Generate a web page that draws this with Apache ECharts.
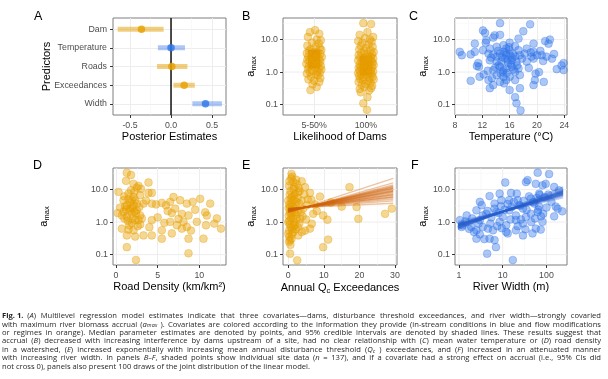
<!DOCTYPE html>
<html><head><meta charset="utf-8">
<script src="https://cdn.jsdelivr.net/npm/echarts@6/dist/echarts.min.js"></script>
<style>html,body{margin:0;padding:0;background:#fff}#c{width:608px;height:379px}</style>
</head><body><div id="c"></div>
<script>
// ---------------- DATA ----------------
const predictors = ['Dam','Temperature','Roads','Exceedances','Width'];
const predictorGroup = ['flow','instream','flow','flow','instream'];
const estMedian = [-0.36, 0.0, 0.01, 0.16, 0.42];
const estLow95  = [-0.65, -0.16, -0.17, 0.03, 0.26];
const estHigh95 = [-0.09, 0.17, 0.20, 0.29, 0.62];
const estTicks = [-0.5, 0, 0.5];
const estTickLabels = ['-0.5','0.0','0.5'];

const damCategories = ['5-50%','100%'];
const damLowAmax = [19.5,17,15,12,10,9.5,8,7.5,6.5,6,5.5,5,4.8,4.5,4.2,4,3.8,3.6,3.4,3.2,3,2.9,2.8,2.6,2.5,2.4,2.3,2.2,2.1,2,1.9,1.8,1.7,1.6,1.55,1.5,1.4,1.3,1.25,1.2,1.1,1.05,1,0.95,0.9,0.85,0.8,0.72,0.65,0.6,0.55,0.5,0.42,0.35,0.28];
const damLowJitter = [0.02,-0.08,0.1,-0.12,0.05,0.13,-0.04,0.09,-0.13,0.03,0.11,-0.07,0.14,-0.1,0.0,0.07,-0.14,0.12,-0.03,0.06,-0.11,0.15,-0.06,0.01,0.1,-0.13,0.04,-0.09,0.12,-0.02,0.08,-0.15,0.05,-0.05,0.13,-0.1,0.02,0.09,-0.12,0.14,-0.04,0.06,-0.08,0.11,-0.14,0.03,0.07,-0.06,0.12,-0.11,0.0,0.1,-0.03,0.05,-0.07];
const damFullAmax = [32,30,17,14,12,11,10,9,8.5,8,7,6.5,6,5.5,5,4.7,4.4,4.1,3.9,3.7,3.5,3.3,3.1,3,2.9,2.8,2.7,2.6,2.5,2.4,2.3,2.2,2.1,2,1.95,1.9,1.8,1.7,1.65,1.6,1.5,1.45,1.4,1.35,1.3,1.25,1.2,1.15,1.1,1.05,1,0.97,0.93,0.9,0.87,0.83,0.8,0.76,0.72,0.7,0.66,0.62,0.6,0.57,0.54,0.5,0.47,0.44,0.41,0.38,0.35,0.32,0.3,0.27,0.24,0.17,0.11,0.069];
const damFullJitter = [-0.05,0.1,0.03,-0.12,0.14,-0.02,0.08,-0.15,0.11,-0.07,0.05,-0.1,0.13,0.0,-0.13,0.09,-0.04,0.15,-0.09,0.02,0.12,-0.14,0.06,-0.01,0.1,-0.11,0.04,0.14,-0.06,0.08,-0.15,0.01,0.11,-0.08,0.13,-0.03,0.07,-0.12,0.15,-0.05,0.03,-0.1,0.12,-0.14,0.06,0.0,-0.07,0.1,-0.12,0.14,-0.02,0.08,-0.15,0.04,0.11,-0.09,0.02,-0.13,0.13,-0.04,0.07,-0.11,0.15,-0.06,0.05,-0.14,0.09,0.0,-0.08,0.12,-0.03,0.1,-0.12,0.06,-0.1,0.03,-0.05,0.02];
const damMeanLow = [1.3, 0.8];
const damMeanHigh = [4.9, 3.2];

const tempVsAmax = [[14.6,32],[19.0,29.5],[12.1,19],[12.4,16],[18.0,18],[13.8,13.5],[13.6,11.5],[14.6,14],[10.9,7.5],[12.5,8],[16.0,8],[15.1,6.7],[16.8,6.3],[19.5,7.5],[21.2,9],[21.9,10],[21.7,7.5],[8.7,4.2],[9.0,3.3],[10.3,3.5],[10.9,4.2],[12.1,4.7],[12.9,3.7],[13.6,3.5],[14.1,3.0],[14.6,3.7],[15.1,4.2],[15.5,3.3],[16.0,4.7],[16.5,3.7],[17.3,4.7],[17.5,3.3],[19.5,4.2],[20.0,3.3],[20.5,4.5],[20.7,3.3],[21.4,3.0],[22.2,2.6],[19.5,2.6],[18.5,2.1],[23.9,1.9],[23.6,1.6],[22.9,1.23],[23.9,1.15],[11.4,1.9],[11.5,1.45],[11.6,0.72],[10.3,0.54],[12.9,0.57],[13.1,0.32],[13.6,0.4],[14.6,0.5],[15.5,0.57],[16.0,0.28],[16.8,0.17],[17.0,0.11],[17.6,0.066],[17.5,0.32],[19.8,0.9],[19.7,0.57],[19.5,0.4],[21.0,0.5],[13.6,1.15],[14.6,1.45],[15.5,1.3],[16.8,1.02],[17.5,0.81],[14.1,0.81],[15.1,0.72],[16.0,0.72],[14.8,2.1],[15.8,1.9],[16.3,2.3],[17.0,2.1],[14.1,2.1],[13.1,2.3],[15.3,2.6],[16.8,3.0],[17.8,2.6],[15.1,1.15],[16.3,1.45],[17.3,1.3],[13.4,0.65],[16.8,0.57],[12.6,9.5],[17.3,10.7],[14.1,6],[15.5,5.3],[13.1,5.3],[18.5,5.3],[19.2,3.0],[18.2,3.7],[14.9,2.9],[15.7,2.4],[16.2,1.7],[14.4,1.6],[15.0,1.0],[16.6,1.2],[13.9,1.4],[15.4,3.9],[16.1,3.2],[14.3,4.5],[15.9,5.8],[14.7,0.9],[15.6,0.95],[17.1,1.6],[13.3,2.8],[16.4,2.7],[12.8,1.1],[18.8,1.35],[20.3,1.0],[20.9,2.2],[19.1,4.0],[22.5,3.6],[11.2,1.55],[12.2,0.85],[15.2,0.45]];
const tempTicks = [8,12,16,20,24];
const tempTickLabels = ['8','12','16','20','24'];

const roadVsAmax = [[1.3,33],[1.8,28],[1.2,18.5],[2.1,15],[2.5,11.5],[0.3,8.5],[3.9,16.5],[3.9,7.9],[4.3,7.9],[1.5,7.5],[2.1,5.9],[2.9,6.7],[3.3,3.7],[4.3,3.7],[5.5,3.9],[6.5,4.2],[6.9,5.9],[7.7,4.7],[8.5,3.7],[0.9,4.7],[1.3,3.3],[1.7,2.6],[2.1,3.3],[2.5,2.3],[0.9,2.1],[1.9,1.8],[2.9,1.6],[1.3,1.45],[2.3,1.15],[4.3,1.15],[6.7,1.9],[7.9,1.8],[8.7,1.6],[6.5,1.02],[7.3,0.8],[8.1,1.02],[8.5,0.71],[9.7,1.02],[0.7,0.63],[1.5,0.59],[2.1,0.56],[2.9,0.85],[1.3,0.39],[2.3,0.36],[3.3,0.39],[4.3,0.39],[5.5,0.56],[5.5,0.31],[6.7,0.45],[7.9,0.63],[8.7,0.31],[1.3,0.17],[8.7,0.11],[2.4,0.068],[1.9,4.7],[2.3,4.7],[1.5,5.2],[1.1,3.0],[2.5,3.7],[1.8,9.5],[2.2,8.5],[0.7,1.6],[2.7,1.15],[11.3,3.7],[10.7,2.0],[10.9,1.6],[10.8,0.8],[12.6,0.63],[10.5,0.31],[1.6,2.2],[2.0,2.8],[2.4,1.9],[1.4,1.1],[1.9,0.95],[2.6,0.75],[1.0,1.3],[1.7,4.0],[2.8,2.9],[1.2,2.5],[2.2,2.1],[3.1,1.3],[1.6,0.8],[2.0,1.3],[3.6,4.6],[4.8,3.5],[5.0,1.4],[6.0,3.3],[7.1,2.6],[9.2,4.2],[9.5,2.4],[12.1,1.3],[10.1,5.2],[5.8,0.95],[4.0,0.7],[3.0,10.5],[2.7,13],[1.0,6.2],[0.5,2.8],[0.2,1.9],[7.5,1.25],[9.0,0.55],[11.8,0.9],[6.2,2.2]];
const roadTicks = [0,5,10];
const roadTickLabels = ['0','5','10'];

const exceedVsAmax = [[0.9,30],[1.4,17],[3.75,18],[4.7,11.8],[6.1,7.9],[8.9,6.1],[17.2,11.8],[19.2,2.9],[19.7,1.26],[27.2,1.8],[29.1,2.6],[9.8,1.6],[11.0,1.18],[7.0,1.8],[6.6,0.89],[6.1,0.63],[4.7,0.55],[11.2,0.29],[9.8,0.17],[0.5,0.107],[2.5,0.067],[0,4.6],[0.5,2.9],[0.9,1.8],[0.3,1.1],[0.7,0.7],[0,0.44],[0.5,0.28],[1.9,7.4],[2.3,4.1],[2.8,2.3],[3.3,1.26],[1.9,0.8],[3.75,4.6],[4.2,2.6],[1.4,10.5],[2.8,8.3],[2.3,1.26],[1.4,0.49],[2.8,0.39],[0.9,0.31],[0.2,13],[0.6,9],[1.0,6],[0.3,3.5],[1.2,2.4],[0.1,1.6],[0.8,1.3],[1.6,1.0],[0.4,0.85],[1.1,0.6],[0.2,0.55],[2.0,3.2],[2.6,5.5],[3.0,3.8],[1.5,4.8],[0.7,5.2],[1.8,2.0],[2.2,1.7],[3.5,2.0],[4.0,1.5],[1.3,1.4],[0.6,2.2],[0.1,2.7],[0.4,7],[1.7,12],[2.4,15],[0.8,22],[3.2,9],[5.2,3.3],[5.5,5.0],[4.5,7.0],[0.3,0.35],[1.0,0.42],[2.1,0.6],[1.5,0.75],[3.1,0.9],[2.7,0.7],[0.0,1.0],[0.5,1.9],[1.2,3.0],[0.9,3.8],[1.6,6.5],[2.9,11],[0.2,0.25],[0.6,0.2],[3.8,0.5],[5,1.2],[7.5,3.5],[8,2.2],[6.5,4.8],[12,4],[15,3],[0.3,18],[1.1,25],[2.2,20]];
const exceedTicks = [0,10,20,30];
const exceedTickLabels = ['0','10','20','30'];
const exceedDrawQ = [0, 29.5];
const exceedDrawStart = [2.6,2.5,2.4,2.3,2.2,2.1,2.0,2.4,2.3,2.2,2.5,2.35,2.15,2.45,2.25,2.05,2.6,2.3,2.2,2.4,2.7,1.95,2.3,2.5,2.2];
const exceedDrawEnd   = [4.5,6,7,8.5,10,12,16,7.5,9,11,5.5,8,13,6.5,9.5,14,5,10.5,12,7,3.8,22,9,6,11];

const widthVsAmax = [[63,33],[115,30],[11.4,16.5],[37,19.5],[34,17],[57,15],[81,13.5],[96,15],[21,7.5],[15.5,7.9],[8.5,7.5],[5,6.3],[3,4.2],[3.3,3.3],[6.5,3.7],[9.3,4.7],[14,4.7],[24,3.3],[44,5.3],[53,3.7],[68,3.0],[84,1.8],[63,2.05],[163,3.0],[230,2.15],[1.5,1.6],[1.05,1.15],[1.15,0.71],[1.9,0.71],[2.5,0.56],[4.6,0.63],[2.5,0.31],[5,0.31],[6.5,0.28],[7,0.17],[4.4,0.107],[17,0.068],[13,0.45],[20,0.56],[29,0.39],[48,0.45],[57,0.63],[74,0.59],[81,1.02],[10,1.45],[8.5,1.02],[12,0.8],[20,1.15],[29,0.9],[34,1.45],[44,1.8],[7.1,2.05],[14,2.3],[4.2,1.8],[3,1.15],[3.5,0.71],[6,0.56],[2.5,2.3],[22,4.7],[29,2.6],[68,7.5],[150,12],[194,9.5],[2.0,1.3],[2.8,0.9],[3.5,1.6],[4.5,2.2],[5.5,1.4],[6.5,2.6],[8,1.9],[9,3.1],[11,2.4],[13,3.6],[16,2.9],[18,4.2],[20,1.6],[25,3.2],[30,4.5],[35,2.4],[40,6.2],[50,4.1],[60,5.5],[70,6.8],[90,5.8],[110,7.0],[130,4.2],[1.2,0.8],[1.4,1.05],[1.7,0.62],[2.2,0.5],[3.0,0.42],[3.8,0.3],[5.2,0.9],[7.5,0.75],[9.5,0.65],[12,0.5],[15,1.2],[22,0.75],[26,1.2],[33,0.6],[45,1.0],[55,1.3],[65,2.4],[75,1.5],[100,2.8],[150,1.5],[180,2.6]];
const widthTicks = [1,10,100];
const widthTickLabels = ['1','10','100'];
const widthDrawW = [0.95, 240];
const widthDrawStart = [0.75,0.8,0.7,0.85,0.9,0.65,0.78,0.72,0.82,0.88,0.68,0.76,0.95,0.62,0.8,0.74,0.86,0.7,0.84,0.78,1.05,0.6];
const widthDrawEnd   = [8,7.5,9,7,6.5,10,8.2,8.8,7.2,6.8,9.5,8.5,6.2,11,7.8,8.6,7,9.2,7.4,8,5.6,12];

const amaxTicks = [0.1, 1, 10];
const amaxTickLabels = ['0.1','1.0','10.0'];

const captionLines = [
 "{b|Fig.\u00a01.}\u2002({i|A}) Multilevel regression model estimates indicate that three covariates\u2014dams, disturbance threshold exceedances, and river width\u2014strongly covaried",
 "with maximum river biomass accrual ({i|a}{isub|max} ). Covariates are colored according to the information they provide (in-stream conditions in blue and flow modifications",
 "or regimes in orange). Median parameter estimates are denoted by points, and 95% credible intervals are denoted by shaded lines. These results suggest that",
 "accrual ({i|B}) decreased with increasing interference by dams upstream of a site, had no clear relationship with ({i|C}) mean water temperature or ({i|D}) road density",
 "in a watershed, ({i|E}) increased exponentially with increasing mean annual disturbance threshold ({i|Q}{isub|c} ) exceedances, and ({i|F}) increased in an attenuated manner",
 "with increasing river width. In panels {i|B\u2013F}, shaded points show individual site data ({i|n} = 137), and if a covariate had a strong effect on accrual (i.e., 95% CIs did",
 "not cross 0), panels also present 100 draws of the joint distribution of the linear model."
];

// ---------------- STYLE / LAYOUT ----------------
const FONT = 'Liberation Sans';
const CAP_FONT = 'Open Sans';
const ORANGE = '#E69F00', BLUE = '#2F74E8';
const ORANGE_DARK = '#CF650C', BLUE_DARK = '#2A5FCC';
const AMAX_MIN = 0.048, AMAX_MAX = 46;
const GRIDS = [
  {left:113, top:18, width:113, height:97},
  {left:283, top:18, width:114, height:97},
  {left:455, top:18, width:112, height:97},
  {left:113, top:168, width:113, height:97},
  {left:283, top:168, width:114, height:97},
  {left:455, top:168, width:112, height:97}
];
const TAG_POS = [['A',34,17],['B',242,17],['C',409,17],['D',33,166],['E',242,166],['F',411,166]];

function merge(a,b){
  const out = Object.assign({}, a);
  for (const k in b){
    const v=b[k];
    if (v && typeof v==='object' && !Array.isArray(v) && out[k] && typeof out[k]==='object' && !Array.isArray(out[k])) out[k]=merge(out[k],v);
    else out[k]=v;
  }
  return out;
}
function fmt(ticks, labels){
  return function(v){
    for (let i=0;i<ticks.length;i++){
      if (Math.abs(v-ticks[i]) <= 1e-6*Math.max(1,Math.abs(ticks[i]))) return labels[i];
    }
    return '';
  };
}
const AXIS_BASE = {
  axisLine:{show:false,onZero:false},
  axisTick:{show:true,length:3,lineStyle:{color:'#333333',width:1}},
  axisLabel:{color:'#4D4D4D',fontSize:8.8,fontFamily:FONT,margin:5},
  splitLine:{show:true,lineStyle:{color:'#EBEBEB',width:0.9}},
  minorTick:{show:false,splitNumber:2},
  minorSplitLine:{show:false,lineStyle:{color:'#F3F3F3',width:0.5}},
  nameLocation:'middle',
  nameMoveOverlap:false,
  nameTextStyle:{fontFamily:FONT,fontSize:11,color:'#000000'}
};
function axis(gi, extra){ return merge(merge(AXIS_BASE,{gridIndex:gi}), extra); }
const SUBRICH = {
  a:{fontFamily:FONT,fontSize:11,color:'#000',lineHeight:14},
  s:{fontFamily:FONT,fontSize:7.5,color:'#000',lineHeight:6,verticalAlign:'bottom'}
};
function amaxAxis(gi, gap){
  return axis(gi, {type:'log', logBase:10, min:AMAX_MIN, max:AMAX_MAX,
    axisLabel:{customValues:amaxTicks, formatter:fmt(amaxTicks,amaxTickLabels)},
    axisTick:{customValues:amaxTicks},
    splitLine:{show:false},
    name:'{a|a}{s|max}', nameRotate:90, nameGap:gap,
    nameTextStyle:{rich:SUBRICH}});
}

const xAxes = [
  axis(0,{type:'value',min:-0.707,max:0.67,splitNumber:3,minorSplitLine:{show:true},
    axisLabel:{customValues:estTicks,formatter:fmt(estTicks,estTickLabels),margin:6},axisTick:{customValues:estTicks},
    name:'Posterior Estimates',nameGap:16}),
  axis(1,{type:'value',min:-0.6,max:1.6,splitNumber:2,
    axisLabel:{customValues:[0,1],formatter:fmt([0,1],damCategories),margin:6},axisTick:{customValues:[0,1]},
    name:'Likelihood of Dams',nameGap:16}),
  axis(2,{type:'value',min:8,max:24.4,interval:4,minorSplitLine:{show:true},
    axisLabel:{customValues:tempTicks,formatter:fmt(tempTicks,tempTickLabels),margin:6},axisTick:{customValues:tempTicks},
    name:'Temperature (\u00b0C)',nameGap:16}),
  axis(3,{type:'value',min:-0.36,max:13.2,splitNumber:3,minorSplitLine:{show:true},
    axisLabel:{customValues:roadTicks,formatter:fmt(roadTicks,roadTickLabels),margin:6},axisTick:{customValues:roadTicks},
    name:'Road Density (km/km\u00b2)',nameGap:16}),
  axis(4,{type:'value',min:-1.49,max:30.56,splitNumber:3,minorSplitLine:{show:true},
    axisLabel:{customValues:exceedTicks,formatter:fmt(exceedTicks,exceedTickLabels),margin:6},axisTick:{customValues:exceedTicks},
    name:'{n|Annual Q}{s|c}{n| Exceedances}',nameGap:16,
    nameTextStyle:{rich:{n:{fontFamily:FONT,fontSize:11,color:'#000',lineHeight:14},s:{fontFamily:FONT,fontSize:7.5,color:'#000',lineHeight:6,verticalAlign:'bottom'}}}}),
  axis(5,{type:'log',logBase:10,min:0.81,max:295,splitLine:{show:false},
    axisLabel:{customValues:widthTicks,formatter:fmt(widthTicks,widthTickLabels),margin:6},axisTick:{customValues:widthTicks},
    name:'River Width (m)',nameGap:16})
];
const idx = [0,1,2,3,4];
const yAxes = [
  axis(0,{type:'value',min:-0.6,max:4.6,inverse:true,splitNumber:5,
    axisLabel:{customValues:idx,formatter:fmt(idx,predictors),margin:6},axisTick:{customValues:idx},
    name:'Predictors',nameRotate:90,nameGap:61}),
  amaxAxis(1,25), amaxAxis(2,25), amaxAxis(3,62), amaxAxis(4,25), amaxAxis(5,25)
];

const series = [];
function gl(ai, pts, w, c){
  series.push({type:'line',xAxisIndex:ai,yAxisIndex:ai,data:pts,symbol:'none',showSymbol:false,silent:true,z:1,
    lineStyle:{color:c,width:w},animation:false});
}
const MAJ='#EBEBEB', MIN='#F3F3F3';
const amaxMinor = amaxTicks.map(v=>v*Math.sqrt(10)).filter(v=>v<AMAX_MAX);
const xExt = {1:[-0.6,1.6],2:[8,24.4],3:[-0.36,13.2],4:[-1.49,30.56],5:[0.81,295]};
for (let g=1; g<=5; g++){
  const [x0,x1]=xExt[g];
  amaxTicks.forEach(v=>gl(g,[[x0,v],[x1,v]],0.9,MAJ));
  amaxMinor.forEach(v=>gl(g,[[x0,v],[x1,v]],0.5,MIN));
}
widthTicks.forEach(v=>gl(5,[[v,AMAX_MIN],[v,AMAX_MAX]],0.9,MAJ));
widthTicks.map(v=>v*Math.sqrt(10)).filter(v=>v<295).forEach(v=>gl(5,[[v,AMAX_MIN],[v,AMAX_MAX]],0.5,MIN));

// Panel A
series.push({type:'line',xAxisIndex:0,yAxisIndex:0,data:[[0,-0.6],[0,4.6]],symbol:'none',silent:true,z:2,lineStyle:{color:'#000',width:1.4}});
predictors.forEach((p,i)=>{
  const c = predictorGroup[i]==='flow'?ORANGE:BLUE;
  series.push({type:'line',xAxisIndex:0,yAxisIndex:0,data:[[estLow95[i],i],[estHigh95[i],i]],symbol:'none',silent:true,z:3,
    lineStyle:{color:c,width:5,opacity:predictorGroup[i]==='flow'?0.5:0.4,cap:'butt'}});
  series.push({type:'scatter',xAxisIndex:0,yAxisIndex:0,data:[[estMedian[i],i]],symbolSize:7.5,silent:true,z:4,itemStyle:{color:c}});
});

function pts(ai, data, color, op){
  series.push({type:'scatter',xAxisIndex:ai,yAxisIndex:ai,data,symbolSize:7.8,silent:true,z:3,
    itemStyle:{color,opacity:op,borderColor:color,borderWidth:0.8}});
}
// Panel B
[0,1].forEach(k=>{
  series.push({type:'line',xAxisIndex:1,yAxisIndex:1,data:[[k,damMeanLow[k]],[k,damMeanHigh[k]]],symbol:'none',silent:true,z:2,
    lineStyle:{color:ORANGE_DARK,width:12,cap:'butt',opacity:0.95}});
});
pts(1, damLowAmax.map((a,i)=>[0+damLowJitter[i],a]), ORANGE, 0.42);
pts(1, damFullAmax.map((a,i)=>[1+damFullJitter[i],a]), ORANGE, 0.42);
// Panel C
pts(2, tempVsAmax, BLUE, 0.4);
// Panel D
pts(3, roadVsAmax, ORANGE, 0.42);
// Panel E
pts(4, exceedVsAmax, ORANGE, 0.42);
exceedDrawStart.forEach((s,i)=>{
  series.push({type:'line',xAxisIndex:4,yAxisIndex:4,data:[[exceedDrawQ[0],s],[exceedDrawQ[1],exceedDrawEnd[i]]],symbol:'none',silent:true,z:4,
    lineStyle:{color:ORANGE_DARK,width:1.3,opacity:0.38}});
});
// Panel F
pts(5, widthVsAmax, BLUE, 0.4);
widthDrawStart.forEach((s,i)=>{
  series.push({type:'line',xAxisIndex:5,yAxisIndex:5,data:[[widthDrawW[0],s],[widthDrawW[1],widthDrawEnd[i]]],symbol:'none',silent:true,z:4,
    lineStyle:{color:BLUE_DARK,width:1.6,opacity:0.3}});
});

// ---------------- CAPTION (justified words) ----------------
const graphics = [];
TAG_POS.forEach(([t,x,y])=>graphics.push({type:'text',x,y,silent:true,
  style:{text:t,fontFamily:FONT,fontSize:12.5,fill:'#000',verticalAlign:'middle',align:'left'}}));

const ctx = document.createElement('canvas').getContext('2d');
function segs(w){ const out=[]; const re=/\{(\w+)\|([^}]*)\}|([^{]+)/g; let m; while((m=re.exec(w))!==null){ out.push(m[1]?[m[1],m[2]]:['n',m[3]]); } return out; }
function fontFor(st,size){ const sz = st==='isub'? size*0.72 : size; return (st==='i'||st==='isub'?'italic ':'') + (st==='b'?'bold ':'') + sz + 'px "' + CAP_FONT + '"'; }
function wWidth(w,size){ return segs(w).reduce((s,p)=>{ctx.font=fontFor(p[0],size); return s+ctx.measureText(p[1]).width;},0); }
function natWidth(line,size){ const ws=line.split(' '); ctx.font=fontFor('n',size); const sp=ctx.measureText(' ').width; return ws.reduce((s,w)=>s+wWidth(w,size),0)+sp*(ws.length-1); }
const CAP_LEFT=2, CAP_RIGHT=601, CAP_Y0=316, CAP_DY=8.4, CAP_COLOR='#231F20';
const CAP_SIZE = 7.6;
const CAP_SCALE = 308/natWidth(captionLines[captionLines.length-1],CAP_SIZE);
const capRich = {
  n:{fontFamily:CAP_FONT,fontSize:CAP_SIZE,fill:CAP_COLOR},
  i:{fontFamily:CAP_FONT,fontSize:CAP_SIZE,fontStyle:'italic',fill:CAP_COLOR},
  b:{fontFamily:CAP_FONT,fontSize:CAP_SIZE,fontWeight:'bold',fill:CAP_COLOR},
  isub:{fontFamily:CAP_FONT,fontSize:CAP_SIZE*0.72,fontStyle:'italic',fill:CAP_COLOR,verticalAlign:'bottom',lineHeight:CAP_SIZE*0.6}
};
captionLines.forEach((line,li)=>{
  const ws=line.split(' ');
  const widths=ws.map(w=>wWidth(w,CAP_SIZE)*CAP_SCALE);
  const sum=widths.reduce((a,b)=>a+b,0);
  ctx.font=fontFor('n',CAP_SIZE);
  const sp=ctx.measureText(' ').width*CAP_SCALE;
  const gap = li<captionLines.length-1 ? (CAP_RIGHT-CAP_LEFT-sum)/(ws.length-1) : sp;
  let x=CAP_LEFT;
  ws.forEach((w,wi)=>{
    graphics.push({type:'text',x,y:CAP_Y0+li*CAP_DY,scaleX:CAP_SCALE,silent:true,
      style:{text:w,fontFamily:CAP_FONT,fontSize:CAP_SIZE,fill:CAP_COLOR,verticalAlign:'middle',align:'left',rich:capRich}});
    x+=widths[wi]+gap;
  });
});

const chart = echarts.init(document.getElementById('c'), null, {renderer:'canvas'});
chart.setOption({
  animation:false,
  backgroundColor:'#ffffff',
  textStyle:{fontFamily:FONT},
  grid: GRIDS.map(g=>Object.assign({show:true,borderColor:'#7F7F7F',borderWidth:1,backgroundColor:'#ffffff',outerBoundsMode:'none',containLabel:false},g)),
  xAxis:xAxes, yAxis:yAxes, series, graphic:graphics
});
</script></body></html>
